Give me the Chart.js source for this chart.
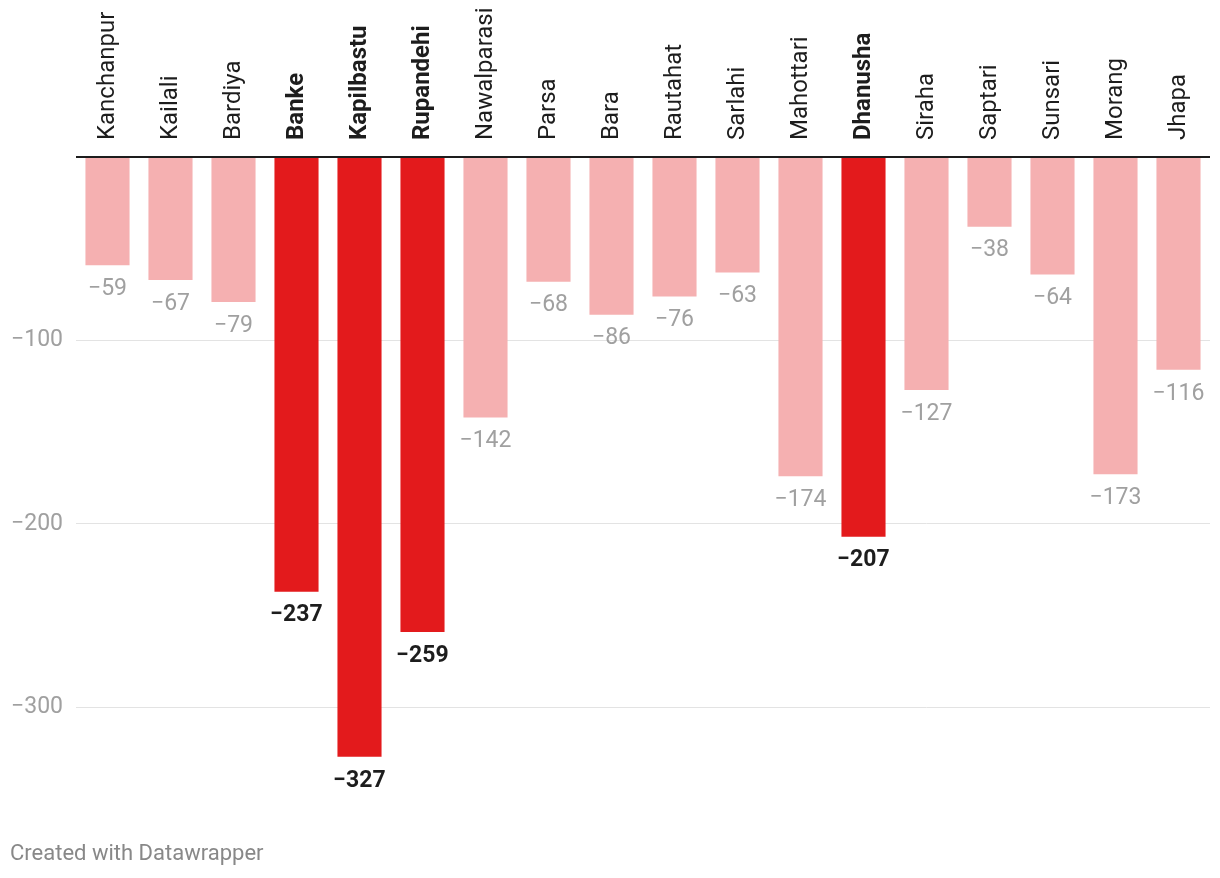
<!DOCTYPE html>
<html>
<head>
<meta charset="utf-8">
<script src="https://cdn.jsdelivr.net/npm/chart.js@4"></script>
<style>
  html, body { margin: 0; padding: 0; background: #fff; }
  #wrap { position: relative; width: 1220px; height: 878px; }
  #footer { position: absolute; left: 10px; top: 839px; font-family: Roboto, sans-serif; font-size: 22px; color: #888; line-height: 28px; }
</style>
</head>
<body>
<div id="wrap">
  <canvas id="c" width="1220" height="878"></canvas>
  <div id="footer">Created with Datawrapper</div>
</div>
<script>
const categories = ["Kanchanpur","Kailali","Bardiya","Banke","Kapilbastu","Rupandehi","Nawalparasi","Parsa","Bara","Rautahat","Sarlahi","Mahottari","Dhanusha","Siraha","Saptari","Sunsari","Morang","Jhapa"];
const values = [-59,-67,-79,-237,-327,-259,-142,-68,-86,-76,-63,-174,-207,-127,-38,-64,-173,-116];
const highlighted = ["Banke","Kapilbastu","Rupandehi","Dhanusha"];
const yTicks = [-300,-200,-100,0];

const RED = '#e31a1c', PINK = '#f5b0b1';
const isHi = c => highlighted.includes(c);
const fmt = v => String(v).replace('-', '\u2212');

const labelsPlugin = {
  id: 'labels',
  afterDatasetsDraw(chart) {
    const ctx = chart.ctx;
    const meta = chart.getDatasetMeta(0);
    const ca = chart.chartArea;
    const y0 = chart.scales.y.getPixelForValue(0);
    ctx.save();
    ctx.strokeStyle = '#1d1d1d';
    ctx.lineWidth = 1.8;
    ctx.beginPath();
    ctx.moveTo(ca.left, y0);
    ctx.lineTo(ca.right, y0);
    ctx.stroke();
    meta.data.forEach((bar, i) => {
      const hi = isHi(categories[i]);
      ctx.font = (hi ? 'bold ' : '') + '23px Roboto';
      ctx.fillStyle = hi ? '#1d1d1d' : '#a0a0a0';
      ctx.textAlign = 'center';
      ctx.textBaseline = 'middle';
      ctx.fillText(fmt(values[i]), bar.x, bar.y + 24);
      ctx.save();
      ctx.translate(bar.x, 140);
      ctx.rotate(-Math.PI / 2);
      ctx.font = (hi ? 'bold ' : '') + '24px Roboto';
      ctx.fillStyle = '#1d1d1d';
      ctx.textAlign = 'left';
      ctx.textBaseline = 'middle';
      ctx.fillText(categories[i], 0, 0);
      ctx.restore();
    });
    ctx.restore();
  }
};

new Chart(document.getElementById('c'), {
  type: 'bar',
  data: {
    labels: categories,
    datasets: [{
      data: values,
      backgroundColor: categories.map(c => isHi(c) ? RED : PINK),
      borderWidth: 0,
      categoryPercentage: 0.7,
      barPercentage: 1.0
    }]
  },
  options: {
    responsive: false,
    animation: false,
    devicePixelRatio: 1,
    layout: { padding: { left: 0, right: 10, top: 0, bottom: 79 } },
    plugins: { legend: { display: false }, tooltip: { enabled: false } },
    scales: {
      x: {
        position: 'top',
        grid: { display: false },
        border: { display: false },
        ticks: { display: false },
        afterFit(s) { s.height = 157; }
      },
      y: {
        min: -350,
        max: 0,
        afterBuildTicks(s) { s.ticks = yTicks.map(v => ({ value: v })); },
        afterFit(s) { s.width = 76; },
        border: { display: false },
        grid: {
          drawTicks: false,
          color: ctx => ctx.tick && ctx.tick.value === 0 ? 'rgba(0,0,0,0)' : '#e3e3e3',
          lineWidth: 1
        },
        ticks: {
          padding: 13,
          color: '#a0a0a0',
          font: { family: 'Roboto', size: 23 },
          callback: v => v === 0 ? '' : fmt(v)
        }
      }
    }
  },
  plugins: [labelsPlugin]
});
</script>
</body>
</html>
